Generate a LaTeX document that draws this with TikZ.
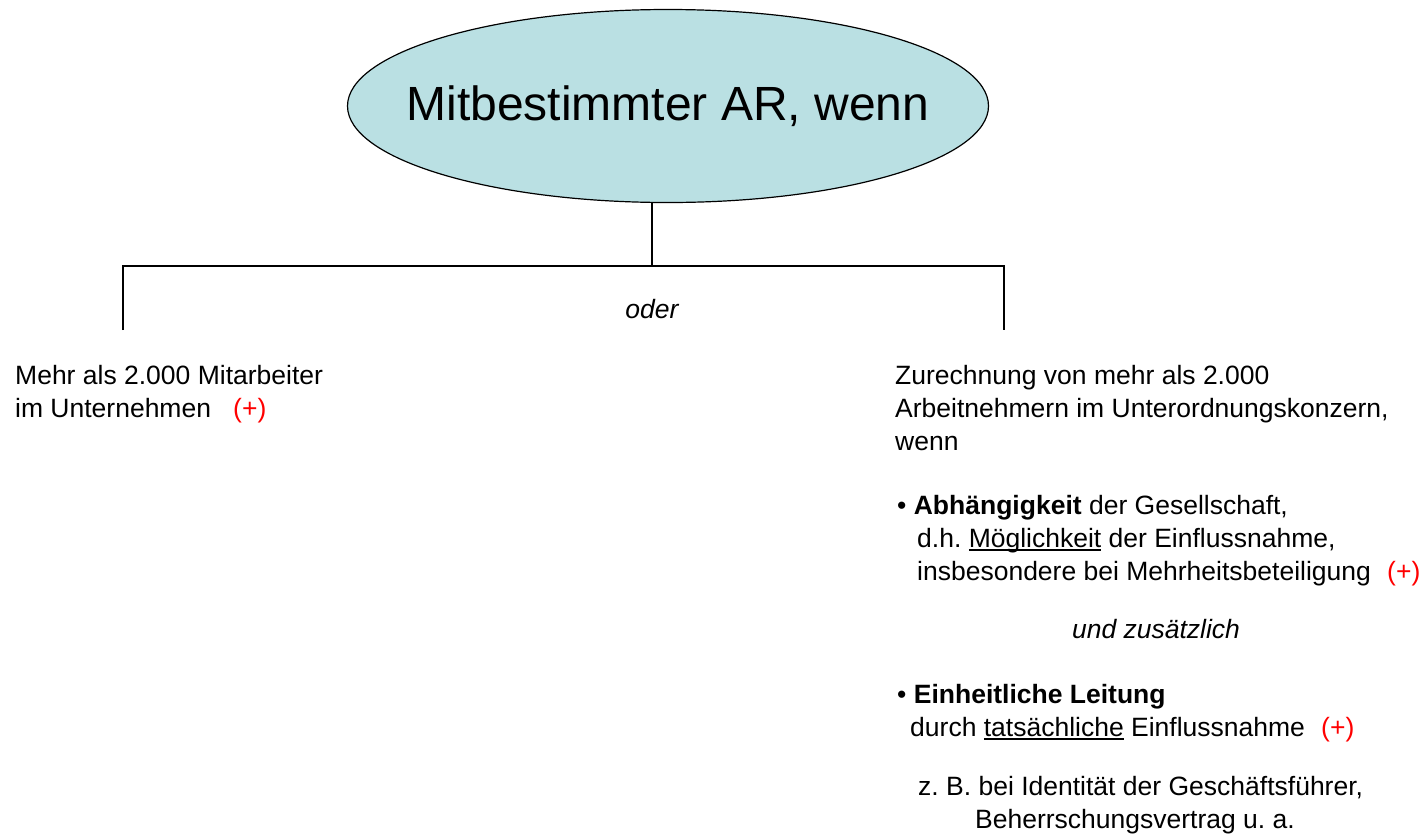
\documentclass[tikz,border=0pt]{standalone}
\usepackage{fontspec}
\setmainfont{Liberation Sans}
\usetikzlibrary{shapes.geometric}
\definecolor{ellfill}{HTML}{BAE0E3}
\definecolor{plusred}{HTML}{FF0000}
\newcommand\myul[1]{\setbox0\hbox{#1}\rlap{\rule[-3.5pt]{\wd0}{1.3pt}}\box0\relax}
\tikzset{
  txt/.style={font=\fontsize{26.5}{33}\selectfont, inner sep=0pt, anchor=base west},
  ctxt/.style={font=\fontsize{26.5}{33}\selectfont\itshape, inner sep=0pt, anchor=base},
  plus/.style={txt, text=plusred},
  conn/.style={draw=black, line width=1.5pt},
  titlebox/.style={ellipse, draw=black, line width=1.2pt, fill=ellfill, minimum width=641pt, minimum height=193pt, inner sep=0pt},
  titletext/.style={inner sep=0pt, font=\fontsize{48}{56}\selectfont}
}
\begin{document}
\frenchspacing
\begin{tikzpicture}[x=1pt, y=-1pt]
\useasboundingbox (0,0) rectangle (1427,836);
\node[titlebox] (title) at (668,106) {};
\node[titletext] (titlelabel) at (title.center) {Mitbestimmter AR, wenn};
\coordinate (j) at (652,266);
\coordinate (l) at (123,266);
\coordinate (r) at (1004,266);
\coordinate (lend) at (123,330);
\coordinate (rend) at (1004,330);
\draw[conn] (j |- title.south) -- (j);
\draw[conn] (lend) -- (l) -- (r) -- (rend);
\node[ctxt] (oder) at (652,318) {oder};
% left branch
\node[txt] (m1) at (15,384) {Mehr als 2.000 Mitarbeiter};
\node[txt] (m2) at (15,417) {im Unternehmen};
\node[plus] (p1) at (233,417) {(+)};
% right branch
\node[txt] (z1) at (895,384) {Zurechnung von mehr als 2.000};
\node[txt] (z2) at (895,417) {Arbeitnehmern im Unterordnungskonzern,};
\node[txt] (z3) at (895,450) {wenn};
\node[txt] (a1) at (897,514) {• \textbf{Abhängigkeit} der Gesellschaft,};
\node[txt] (a2) at (917,547) {d.h. \myul{Möglichkeit} der Einflussnahme,};
\node[txt] (a3) at (917,580) {insbesondere bei Mehrheitsbeteiligung};
\node[plus] (p2) at (1387,580) {(+)};
\node[ctxt] (und) at (1156,638) {und zusätzlich};
\node[txt] (e1) at (897,703) {• \textbf{Einheitliche Leitung}};
\node[txt] (e2) at (910,736) {durch \myul{tatsächliche} Einflussnahme};
\node[plus] (p3) at (1321,736) {(+)};
\node[txt] (b1) at (918,795) {z. B. bei Identität der Geschäftsführer,};
\node[txt] (b2) at (975,828) {Beherrschungsvertrag u. a.};
\end{tikzpicture}
\end{document}
